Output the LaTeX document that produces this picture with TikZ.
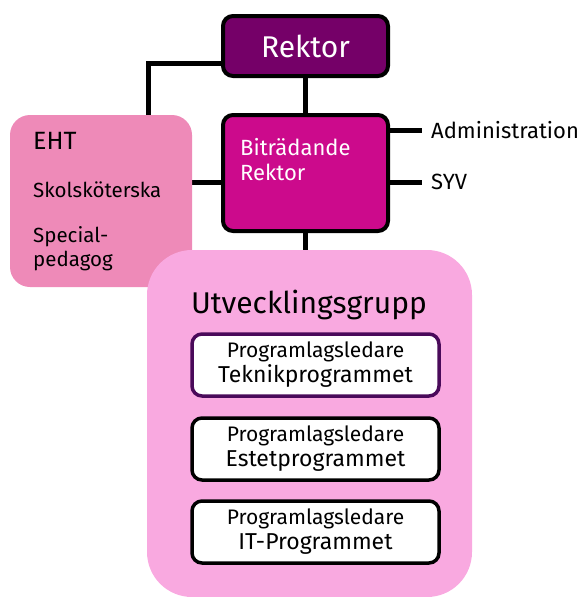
\documentclass[tikz,border=0pt]{standalone}
\usepackage{fontspec}
\setmainfont{Fira Sans}
\usetikzlibrary{backgrounds}
\definecolor{rektorpurple}{HTML}{750068}
\definecolor{bitrmagenta}{HTML}{CC0A8C}
\definecolor{ehtpink}{HTML}{EE8AB8}
\definecolor{utvpink}{HTML}{F9A9E0}
\definecolor{teknikedge}{HTML}{4A0A5A}
\tikzset{
  conn/.style={line width=5pt},
  bossbox/.style={draw,line width=4pt,rounded corners=10pt,text=white,minimum width=165pt},
  progbox/.style={draw,line width=3.5pt,fill=white,rounded corners=10pt,minimum width=247pt,minimum height=62pt,align=center,inner sep=0pt},
  plaintext/.style={inner sep=0pt,anchor=west},
}
\begin{document}
\begin{tikzpicture}[x=1pt,y=-1pt]
    \useasboundingbox (0,0) rectangle (581,597);
    \providecommand{\rektorfontsize}{\fontsize{30pt}{34pt}\selectfont}
    \providecommand{\bitrfontsize}{\fontsize{22pt}{25pt}\selectfont}
    \providecommand{\sidefontsize}{\fontsize{22pt}{26pt}\selectfont}
    \providecommand{\ehtfontsize}{\fontsize{20.5pt}{24pt}\selectfont}
    \providecommand{\utvfontsize}{\fontsize{30pt}{34pt}\selectfont}
    \providecommand{\progfontsize}{\fontsize{23pt}{25pt}\selectfont}
    \providecommand{\proglead}{{\fontsize{21pt}{24pt}\selectfont Programlagsledare}}
    % the boxes
    \node[bossbox,fill=rektorpurple,minimum height=60pt] (rektor) at (305.5,46) {\rektorfontsize Rektor};
    \node[bossbox,fill=bitrmagenta,minimum height=116pt] (bitr) at (305.5,173) {};
    \node[plaintext,text=white,align=left,font=\bitrfontsize] (bitrtext) at (240,160) {Biträdande\\Rektor};
    \node[fill=ehtpink,rounded corners=20pt,minimum width=182pt,minimum height=172pt] (eht) at (101,201) {};
    \node[plaintext,font=\fontsize{25pt}{28pt}\selectfont] (ehttitle) at (33,141) {EHT};
    \node[plaintext,font=\ehtfontsize] (skolsk) at (33,190) {Skolsköterska};
    \node[plaintext,font=\ehtfontsize,align=left] (specped) at (33,249) {Special-\\pedagog};
    \node[fill=utvpink,rounded corners=45pt,minimum width=325pt,minimum height=347pt] (utv) at (309.5,423.5) {};
    \node[inner sep=0pt,font=\utvfontsize] (utvtitle) at (309,305) {Utvecklingsgrupp};
    \node[progbox,draw=teknikedge,font=\progfontsize] (teknik) at (315.5,365) {\proglead\\Teknikprogrammet};
    \node[progbox,font=\progfontsize] (estet) at (315.5,449) {\proglead\\Estetprogrammet};
    \node[progbox,font=\progfontsize] (itprog) at (315.5,532) {\proglead\\IT-Programmet};
    \node[plaintext,inner xsep=9pt,font=\sidefontsize] (admin) at (422,130) {Administration};
    \node[plaintext,inner xsep=9pt,font=\sidefontsize] (syv) at (422,182) {SYV};
    % connectors
    \begin{scope}[on background layer]
    \coordinate (ehtbend) at (148,63);
    \draw[conn] (ehtbend -| rektor.west) -- (ehtbend) -- (ehtbend |- eht.north);
    \draw[conn] (rektor.south) -- (bitr.north);
    \draw[conn] (eht.east |- syv) -- (bitr.west |- syv);
    \draw[conn] (bitr.east |- admin) -- (admin.west);
    \draw[conn] (bitr.east |- syv) -- (syv.west);
    \draw[conn] (bitr.south) -- (bitr.south |- utv.north);
    \end{scope}
\end{tikzpicture}
\end{document}
